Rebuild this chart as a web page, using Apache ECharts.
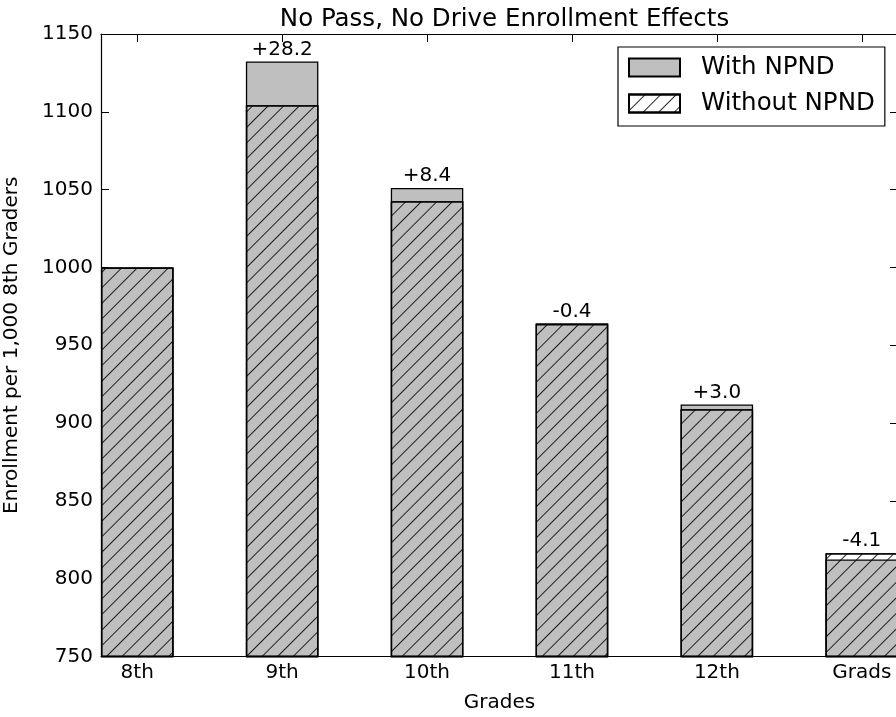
<!DOCTYPE html>
<html>
<head>
<meta charset="utf-8">
<script src="https://cdn.jsdelivr.net/npm/echarts@6/dist/echarts.min.js"></script>
<style>html,body{margin:0;padding:0;background:#fff;}#c{width:896px;height:717px;}</style>
</head>
<body>
<div id="c"></div>
<script>
const categories = ['8th', '9th', '10th', '11th', '12th', 'Grads'];
const withNPND = [1000, 1132.4, 1051.0, 963.5, 911.9, 812.3];
const withoutNPND = [1000, 1104.2, 1042.6, 963.9, 908.9, 816.4];
const diffLabels = ['', '+28.2', '+8.4', '-0.4', '+3.0', '-4.1'];
const yTicks = [750, 800, 850, 900, 950, 1000, 1050, 1100, 1150];

const FONT = 'DejaVu Sans';
const pos = categories.map((c, i) => i + 0.25);

function labelFor(i, isTop) {
  if (!isTop || !diffLabels[i]) return { show: false };
  return { show: true, position: 'top', distance: 2, formatter: diffLabels[i], fontFamily: FONT, fontSize: 20, color: '#000' };
}

const withData = withNPND.map((v, i) => ({ value: [pos[i], v], label: labelFor(i, v > withoutNPND[i]) }));
const withoutData = withoutNPND.map((v, i) => ({ value: [pos[i], v], label: labelFor(i, v >= withNPND[i]) }));

const chart = echarts.init(document.getElementById('c'), null, { renderer: 'canvas' });
function xAxisDef(extra) {
  return Object.assign({
    type: 'value', min: 0, max: 5.5,
    splitLine: { show: false },
    axisLine: { show: true, onZero: false, lineStyle: { color: '#000', width: 1.2 } },
    axisTick: { show: true, inside: true, length: 8, customValues: pos, lineStyle: { color: '#000' } },
  }, extra);
}
function yAxisDef(extra) {
  return Object.assign({
    type: 'value', min: 750, max: 1150, interval: 50,
    splitLine: { show: false },
    axisLine: { show: true, onZero: false, lineStyle: { color: '#000', width: 1.2 } },
    axisTick: { show: true, inside: true, length: 8, lineStyle: { color: '#000' } },
  }, extra);
}
chart.setOption({
  animation: false,
  backgroundColor: '#fff',
  title: {
    text: 'No Pass, No Drive Enrollment Effects',
    left: 499.5, textAlign: 'center', top: 2,
    textStyle: { fontFamily: FONT, fontSize: 24.5, fontWeight: 'normal', color: '#000' }
  },
  legend: {
    data: ['With NPND', 'Without NPND'],
    orient: 'vertical', left: 618, top: 47,
    padding: [8, 10, 10, 10], itemGap: 11,
    itemWidth: 51, itemHeight: 18,
    backgroundColor: '#fff', borderColor: '#000', borderWidth: 1.2, borderRadius: 0,
    textStyle: { fontFamily: FONT, fontSize: 24.5, color: '#000', padding: [0, 0, 0, 16] },
    icon: 'rect'
  },
  grid: { left: 101, right: -2, top: 34, bottom: 60.5, containLabel: false, outerBoundsMode: 'none' },
  xAxis: [
    xAxisDef({
      position: 'bottom',
      name: 'Grades', nameLocation: 'middle', nameGap: 36,
      nameTextStyle: { fontFamily: FONT, fontSize: 20, color: '#000' },
      axisLabel: { show: true, customValues: pos, margin: 6, fontFamily: FONT, fontSize: 20, color: '#000',
        formatter: v => categories[Math.round(v - 0.25)] }
    }),
    xAxisDef({ position: 'top', axisLabel: { show: false } })
  ],
  yAxis: [
    yAxisDef({
      position: 'left',
      name: 'Enrollment per 1,000 8th Graders', nameLocation: 'middle', nameGap: 79, nameRotate: 90,
      nameTextStyle: { fontFamily: FONT, fontSize: 20, color: '#000' },
      axisLabel: { margin: 8, fontFamily: FONT, fontSize: 20, color: '#000', formatter: v => String(v) }
    }),
    yAxisDef({ position: 'right', axisLabel: { show: false } })
  ],
  series: [
    {
      name: 'With NPND', type: 'bar', xAxisIndex: 0, yAxisIndex: 0,
      barWidth: 72.5, barGap: '-100%', clip: true,
      itemStyle: { color: '#bfbfbf', borderColor: '#000', borderWidth: 1.3 },
      data: withData, z: 2
    },
    {
      name: 'Without NPND', type: 'bar', xAxisIndex: 0, yAxisIndex: 0,
      barWidth: 72.5, barGap: '-100%', clip: true,
      itemStyle: {
        color: 'rgba(255,255,255,0)', borderColor: '#000', borderWidth: 1.3,
        decal: { symbol: 'rect', symbolSize: 1, dashArrayX: [1, 0], dashArrayY: [1, 10], rotation: -Math.PI / 4, color: 'rgba(0,0,0,0.85)' }
      },
      data: withoutData, z: 3
    }
  ]
});
</script>
</body>
</html>
